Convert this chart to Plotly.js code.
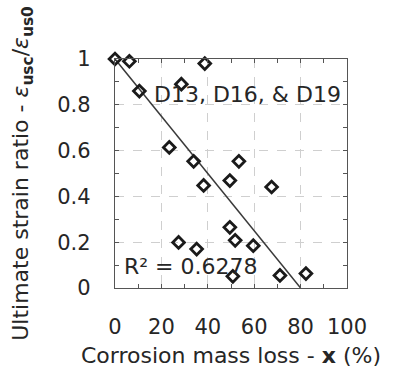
<!DOCTYPE html>
<html>
<head>
<meta charset="utf-8">
<script src="https://cdn.plot.ly/plotly-3.0.1.min.js"></script>
<style>html,body{margin:0;padding:0;background:#fff;}#chart{width:398px;height:375px;}</style>
</head>
<body>
<div id="chart"></div>
<script>
// Corrosion mass loss (%) and ultimate strain ratio
const massLoss = [0, 6.2, 38.7, 10.5, 28.6, 23.4, 33.9, 53.4, 38.2, 49.5, 67.5, 49.5, 27.4, 51.8, 35.2, 59.6, 50.8, 71.1, 82.3];
const strainRatio = [1.0, 0.99, 0.98, 0.86, 0.89, 0.614, 0.553, 0.553, 0.448, 0.469, 0.441, 0.265, 0.199, 0.208, 0.170, 0.185, 0.051, 0.055, 0.063];
// Linear fit line endpoints
const fitX = [0, 80];
const fitY = [1, 0];
const xTicks = [0, 20, 40, 60, 80, 100];
const yTicks = [0, 0.2, 0.4, 0.6, 0.8, 1];
const yTickText = ['0', '0.2', '0.4', '0.6', '0.8', '1'];
const seriesLabel = 'D13, D16, & D19';
const r2Label = 'R² = 0.6278';

const FONT = 'DejaVu Sans, Liberation Sans, Arial, sans-serif';
const TXT = '#262626';

const traces = [
  {x: fitX, y: fitY, mode: 'lines', line: {color: '#3a3a3a', width: 1.5}, hoverinfo: 'skip', showlegend: false, cliponaxis: false},
  {x: massLoss, y: strainRatio, mode: 'markers', cliponaxis: false, showlegend: false,
   marker: {symbol: 'diamond-open', size: 9, color: '#1a1a1a', line: {width: 2.8, color: '#1a1a1a'}}}
];

const axisCommon = {
  showline: true, linecolor: '#555', linewidth: 1.2, mirror: 'ticks',
  ticks: 'inside', ticklen: 4, tickcolor: '#555', tickwidth: 1,
  showgrid: true, gridcolor: '#cfcfcf', griddash: 'dash', gridwidth: 1,
  zeroline: false, automargin: false,
  tickfont: {family: FONT, size: 21, color: TXT}
};

const layout = {
  width: 398, height: 375,
  margin: {l: 115, r: 51, t: 59, b: 87},
  paper_bgcolor: '#fff', plot_bgcolor: '#fff',
  showlegend: false,
  xaxis: Object.assign({}, axisCommon, {
    range: [0, 100], tickmode: 'array', tickvals: xTicks, ticklabelstandoff: 20,
    minor: {dtick: 10, tick0: 0, ticks: 'inside', ticklen: 4, tickcolor: '#555', showgrid: false},
    title: {text: 'Corrosion mass loss - <b>x</b> (%)', font: {family: FONT, size: 22, color: TXT}, standoff: 9}
  }),
  yaxis: Object.assign({}, axisCommon, {
    range: [0, 1], tickmode: 'array', tickvals: yTicks, ticktext: yTickText, ticklabelstandoff: 19,
    minor: {dtick: 0.1, tick0: 0, ticks: 'inside', ticklen: 4, tickcolor: '#555', showgrid: false},
    title: {text: 'Ultimate strain ratio - <i>ε</i><sub><b>usc</b></sub>/<i>ε</i><sub><b>us0</b></sub>', font: {family: FONT, size: 22, color: TXT}, standoff: 22}
  }),
  annotations: [
    {x: 16, y: 0.845, xref: 'x', yref: 'y', text: seriesLabel, showarrow: false, xanchor: 'left', yanchor: 'middle',
     font: {family: FONT, size: 22, color: TXT}},
    {x: 3, y: 0.093, xref: 'x', yref: 'y', text: r2Label, showarrow: false, xanchor: 'left', yanchor: 'middle',
     font: {family: FONT, size: 22, color: TXT}}
  ]
};

Plotly.newPlot('chart', traces, layout, {displayModeBar: false, staticPlot: true});
</script>
</body>
</html>
